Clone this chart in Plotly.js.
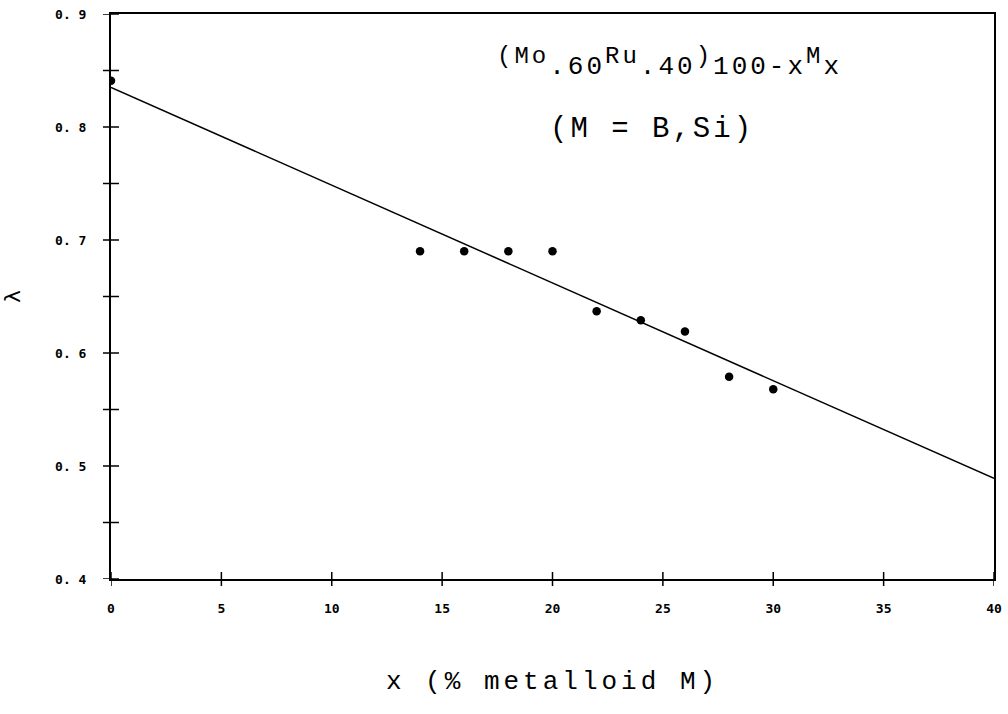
<!DOCTYPE html>
<html>
<head>
<meta charset="utf-8">
<script src="https://cdn.plot.ly/plotly-3.0.1.min.js"></script>
<style>
html,body{margin:0;padding:0;background:#fff;}
#chart{width:1008px;height:714px;}
.annotation-text{letter-spacing:3px;}
.xtitle{letter-spacing:4px;}
</style>
</head>
<body>
<div id="chart"></div>
<script>
// Measured data points
var xPts = [0, 14, 16, 18, 20, 22, 24, 26, 28, 30];
var lambdaPts = [0.841, 0.690, 0.690, 0.690, 0.690, 0.637, 0.629, 0.619, 0.579, 0.568];
// Fitted straight line
var fitX = [0, 40];
var fitY = [0.835, 0.489];
// Axes
var xRange = [0, 40];
var yRange = [0.4, 0.9];
var xTickVals = [0, 5, 10, 15, 20, 25, 30, 35, 40];
var xTickText = ['0', '5', '10', '15', '20', '25', '30', '35', '40'];
var yTickVals = [0.4, 0.5, 0.6, 0.7, 0.8, 0.9];
var yTickText = ['0. 4', '0. 5', '0. 6', '0. 7', '0. 8', '0. 9'];
var yCrossTicks = [0.4, 0.45, 0.5, 0.55, 0.6, 0.65, 0.7, 0.75, 0.8, 0.85, 0.9];
var xCrossTicks = [0, 5, 10, 15, 20, 25, 30, 35, 40];

var W = 1008, H = 714, M = {l: 111, r: 14, t: 14, b: 135};
var plotW = W - M.l - M.r, plotH = H - M.t - M.b;
var tickHalf = 8; // px on each side of the axis line

var tickFont = {family: 'DejaVu Sans Mono', size: 13, color: '#000', weight: 'bold'};
var mono = 'Liberation Mono, Courier New, monospace';

var traces = [
  {x: fitX, y: fitY, mode: 'lines', line: {color: '#000', width: 1.5}, hoverinfo: 'skip', showlegend: false},
  {x: xPts, y: lambdaPts, mode: 'markers', marker: {color: '#000', size: 8.5}, showlegend: false}
];

// crossing tick marks, positioned through the axes' scales
var shapes = [];
yCrossTicks.forEach(function (v) {
  shapes.push({type: 'line', xref: 'paper', yref: 'y', layer: 'above',
    x0: -tickHalf / plotW, x1: tickHalf / plotW, y0: v, y1: v, line: {color: '#000', width: 1.5}});
});
xCrossTicks.forEach(function (v) {
  shapes.push({type: 'line', xref: 'x', yref: 'paper', layer: 'above',
    y0: -(tickHalf - 1) / plotH, y1: (tickHalf - 1) / plotH, x0: v, x1: v, line: {color: '#000', width: 1.5}});
});

var supStyle = 'font-size:24px';
var formula = '<sup><span style="' + supStyle + '">(Mo</span></sup>.60' +
              '<sup><span style="' + supStyle + '">Ru</span></sup>.40' +
              '<sup><span style="' + supStyle + '">)</span></sup>100-x' +
              '<sup><span style="' + supStyle + '">M</span></sup>x';

var layout = {
  width: W, height: H,
  margin: M,
  paper_bgcolor: '#fff', plot_bgcolor: '#fff',
  showlegend: false,
  xaxis: {
    range: xRange, tickmode: 'array', tickvals: xTickVals, ticktext: xTickText,
    ticks: '', showgrid: false, zeroline: false,
    showline: true, linecolor: '#000', linewidth: 2, mirror: true,
    tickfont: tickFont, ticklabelstandoff: 16,
    title: {text: 'x (% metalloid M)', font: {family: mono, size: 26, color: '#000'}, standoff: 56}
  },
  yaxis: {
    range: yRange, tickmode: 'array', tickvals: yTickVals, ticktext: yTickText,
    ticks: '', showgrid: false, zeroline: false,
    showline: true, linecolor: '#000', linewidth: 2, mirror: true,
    tickfont: tickFont, ticklabelstandoff: 20,
    title: {text: 'λ', font: {family: 'DejaVu Sans', size: 22, color: '#000'}, standoff: 42}
  },
  shapes: shapes,
  annotations: [
    {xref: 'paper', yref: 'paper', x: 0.633, y: 0.915, xanchor: 'center', yanchor: 'middle', showarrow: false,
     text: formula,
     font: {family: mono, size: 26, color: '#000'}},
    {xref: 'paper', yref: 'paper', x: 0.613, y: 0.795, xanchor: 'center', yanchor: 'middle', showarrow: false,
     text: '(M = B,Si)',
     font: {family: mono, size: 29, color: '#000'}}
  ]
};

Plotly.newPlot('chart', traces, layout, {displayModeBar: false, staticPlot: true});
</script>
</body>
</html>
